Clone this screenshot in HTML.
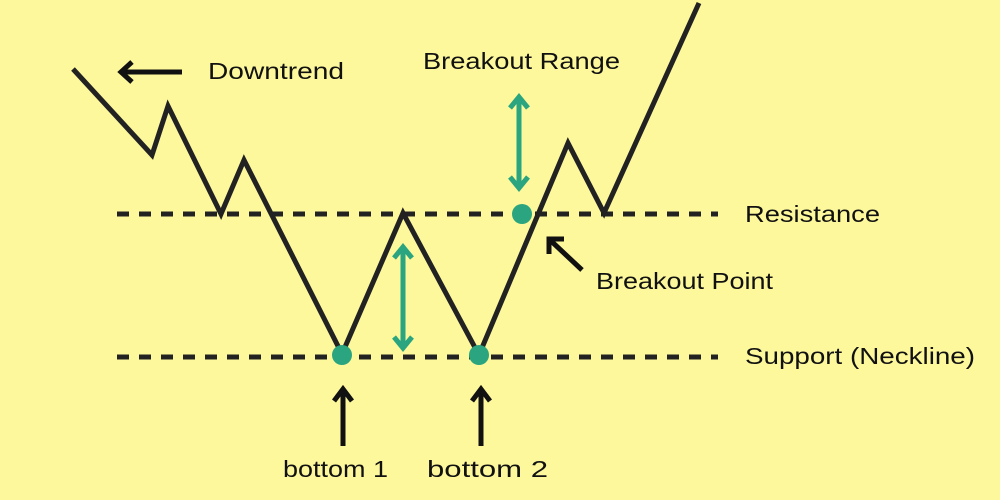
<!DOCTYPE html>
<html><head><style>
body{margin:0;background:#fdf89c;}
svg{display:block}
text{font-family:"Liberation Sans",sans-serif;font-size:23px;fill:#111;dominant-baseline:middle}
</style></head><body>
<svg width="1000" height="500" viewBox="0 0 1000 500">
<rect width="1000" height="500" fill="#fdf89c"/>
<g stroke="#222" stroke-width="5" stroke-dasharray="12 10">
<line x1="117" y1="214" x2="718" y2="214"/>
<line x1="117" y1="357" x2="718" y2="357"/>
</g>
<polyline points="73,69 152,155 168,106 221,214 244,160 342,354 403,213 479,355 568,143 604,213 699,3" fill="none" stroke="#222" stroke-width="5"/>
<g stroke="#2aa57f" stroke-width="5" fill="none">
<line x1="403" y1="248" x2="403" y2="347"/>
<polyline points="394,258 403,247 412,258"/>
<polyline points="394,337 403,348 412,337"/>
<line x1="519" y1="98" x2="519" y2="187"/>
<polyline points="510,108 519,97 528,108"/>
<polyline points="510,177 519,188 528,177"/>
</g>
<g fill="#2aa57f">
<circle cx="522" cy="214" r="10"/>
<circle cx="342" cy="355" r="10"/>
<circle cx="479" cy="355" r="10"/>
</g>
<g stroke="#111" stroke-width="5" fill="none">
<line x1="182" y1="72" x2="122" y2="72"/>
<polyline points="132,62 121,72 132,82"/>
<line x1="582" y1="270" x2="550" y2="240"/>
<polyline points="549,254 549,239 564,239"/>
<line x1="343" y1="446" x2="343" y2="390"/>
<polyline points="334,401 343,389 352,401"/>
<line x1="481" y1="446" x2="481" y2="390"/>
<polyline points="472,401 481,389 490,401"/>
</g>
<text x="208" y="73" textLength="136" lengthAdjust="spacingAndGlyphs">Downtrend</text>
<text x="423" y="63" textLength="197" lengthAdjust="spacingAndGlyphs">Breakout Range</text>
<text x="745" y="216" textLength="135" lengthAdjust="spacingAndGlyphs">Resistance</text>
<text x="596" y="283" textLength="177" lengthAdjust="spacingAndGlyphs">Breakout Point</text>
<text x="745" y="358" textLength="230" lengthAdjust="spacingAndGlyphs">Support (Neckline)</text>
<text x="283" y="471" textLength="105" lengthAdjust="spacingAndGlyphs">bottom 1</text>
<text x="427" y="471" textLength="121" lengthAdjust="spacingAndGlyphs">bottom 2</text>
</svg>
</body></html>
